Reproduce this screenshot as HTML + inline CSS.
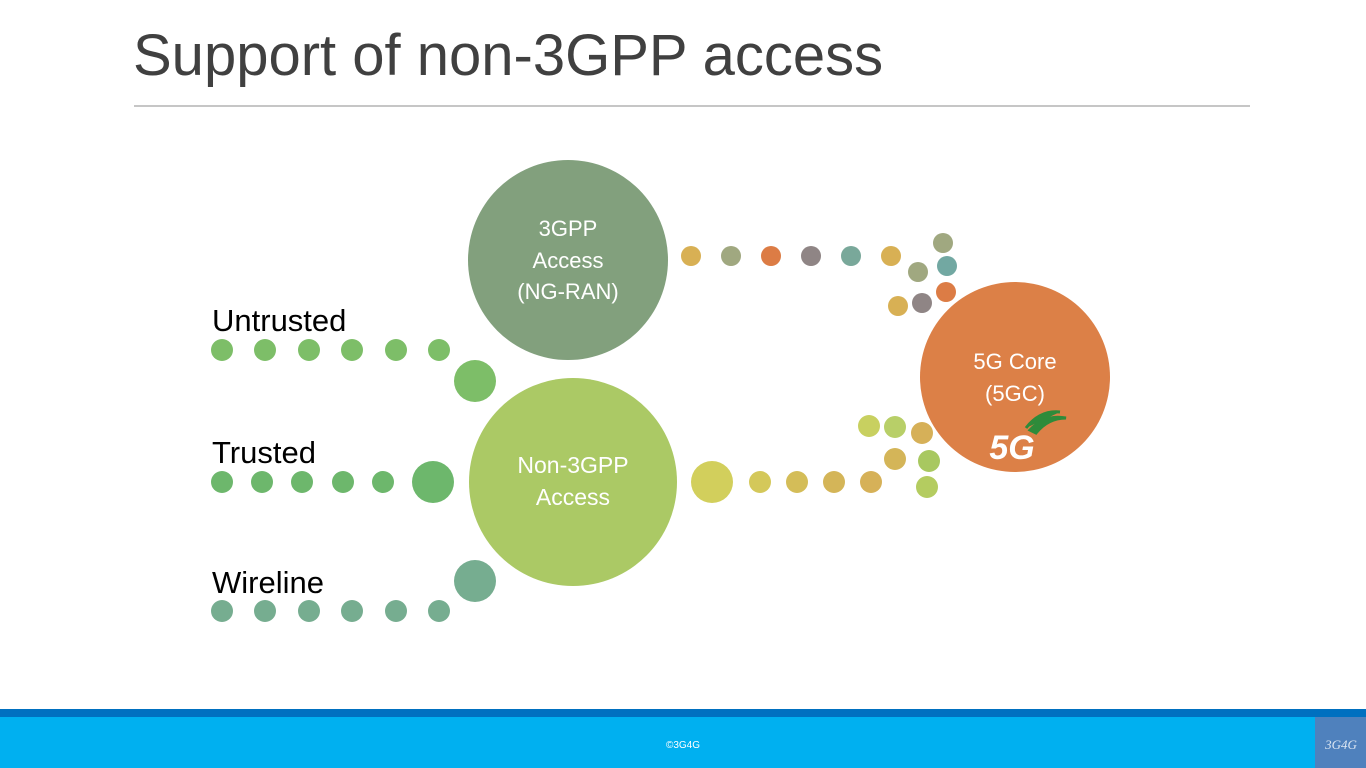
<!DOCTYPE html>
<html><head><meta charset="utf-8"><style>
html,body{margin:0;padding:0;background:#fff;width:1366px;height:768px;overflow:hidden}
svg{display:block}
</style></head><body>
<svg width="1366" height="768" xmlns="http://www.w3.org/2000/svg" font-family="Liberation Sans, sans-serif">
<rect width="1366" height="768" fill="#fff"/>
<text x="133" y="75" font-size="58" fill="#404040">Support of non-3GPP access</text>
<line x1="134" y1="106" x2="1250" y2="106" stroke="#8c8c8c" stroke-width="1"/>
<circle cx="568" cy="260" r="100" fill="#82a07d"/>
<circle cx="573" cy="482" r="104" fill="#abc965"/>
<circle cx="1015" cy="377" r="95" fill="#dc8047"/>
<g fill="#fff" font-size="22" text-anchor="middle">
<text x="568" y="236">3GPP</text><text x="568" y="268">Access</text><text x="568" y="299">(NG-RAN)</text>
<text x="573" y="473" font-size="23">Non-3GPP</text><text x="573" y="505" font-size="23">Access</text>
<text x="1015" y="369">5G Core</text><text x="1015" y="401">(5GC)</text>
<text x="1012" y="459" font-size="34" font-weight="bold" font-style="italic">5G</text>
</g>
<path d="M1030 430 Q1045 414 1066 418 Q1048 418 1036 433 Z M1026 428 Q1040 410 1060 412" fill="#2e8b3a" stroke="#2e8b3a" stroke-width="3"/>
<g font-size="31" fill="#000">
<text x="212" y="331">Untrusted</text><text x="212" y="463">Trusted</text><text x="212" y="593">Wireline</text>
</g>
<g fill="#7dbe68">
<circle cx="222" cy="350" r="11"/><circle cx="265" cy="350" r="11"/><circle cx="309" cy="350" r="11"/><circle cx="352" cy="350" r="11"/><circle cx="396" cy="350" r="11"/><circle cx="439" cy="350" r="11"/><circle cx="475" cy="381" r="21"/>
</g>
<g fill="#6db76c">
<circle cx="222" cy="482" r="11"/><circle cx="262" cy="482" r="11"/><circle cx="302" cy="482" r="11"/><circle cx="343" cy="482" r="11"/><circle cx="383" cy="482" r="11"/><circle cx="433" cy="482" r="21"/>
</g>
<g fill="#76ad90">
<circle cx="222" cy="611" r="11"/><circle cx="265" cy="611" r="11"/><circle cx="309" cy="611" r="11"/><circle cx="352" cy="611" r="11"/><circle cx="396" cy="611" r="11"/><circle cx="439" cy="611" r="11"/><circle cx="475" cy="581" r="21"/>
</g>
<g>
<circle cx="691" cy="256" r="10" fill="#d8b054"/><circle cx="731" cy="256" r="10" fill="#a0a880"/><circle cx="771" cy="256" r="10" fill="#dc7c45"/><circle cx="811" cy="256" r="10" fill="#8f8585"/><circle cx="851" cy="256" r="10" fill="#79a89a"/><circle cx="891" cy="256" r="10" fill="#d8b054"/>
<circle cx="918" cy="272" r="10" fill="#a0a880"/><circle cx="943" cy="243" r="10" fill="#a0a880"/><circle cx="947" cy="266" r="10" fill="#72a8a2"/><circle cx="898" cy="306" r="10" fill="#d8b054"/><circle cx="922" cy="303" r="10" fill="#8f8585"/><circle cx="946" cy="292" r="10" fill="#dc7c45"/>
</g>
<g>
<circle cx="712" cy="482" r="21" fill="#d2cf5c"/><circle cx="760" cy="482" r="11" fill="#d4c85a"/><circle cx="797" cy="482" r="11" fill="#d4bd58"/><circle cx="834" cy="482" r="11" fill="#d4b558"/><circle cx="871" cy="482" r="11" fill="#d6b158"/>
<circle cx="869" cy="426" r="11" fill="#c8d060"/><circle cx="895" cy="427" r="11" fill="#b8cf68"/><circle cx="922" cy="433" r="11" fill="#d6b058"/><circle cx="895" cy="459" r="11" fill="#d4b558"/><circle cx="929" cy="461" r="11" fill="#a8c860"/><circle cx="927" cy="487" r="11" fill="#b4cc60"/>
</g>
<rect x="0" y="709" width="1366" height="8" fill="#0070c0"/>
<rect x="0" y="717" width="1366" height="51" fill="#00b0f0"/>
<rect x="1315" y="717" width="51" height="51" fill="#4f81bd"/>
<text x="683" y="748" font-size="10" fill="#fff" text-anchor="middle">©3G4G</text>
<text x="1341" y="749" font-size="13" fill="#dce6f2" font-style="italic" font-family="Liberation Serif, serif" text-anchor="middle">3G4G</text>
</svg>
</body></html>
